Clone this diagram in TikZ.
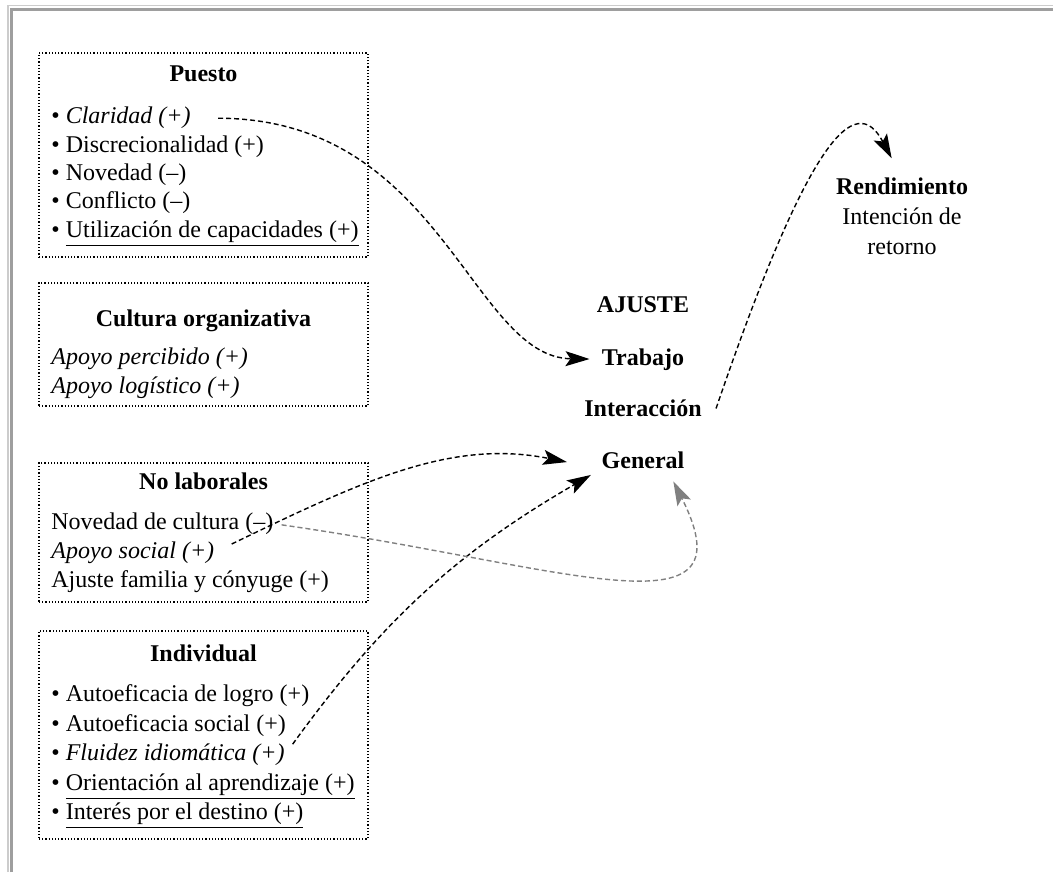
\documentclass[tikz,border=0pt]{standalone}
\usepackage{fontspec}
\setmainfont{Liberation Serif}
\usetikzlibrary{arrows.meta,positioning}

\begin{document}
\begin{tikzpicture}[
  x=0.5pt, y=-0.5pt,
  font=\fontsize{12}{14}\selectfont,
  caja/.style={draw, densely dotted, line width=0.6pt, minimum width=164.5pt,
    minimum height=#1, inner sep=0pt},
  titulo/.style={font=\fontsize{12}{14}\selectfont\bfseries, anchor=base, inner sep=0pt},
  elem/.style={anchor=base west, inner sep=0pt},
  flecha/.style={-{Stealth[length=12pt, width=7.5pt, inset=2.5pt]}, line width=0.7pt,
    dash pattern=on 2.5pt off 1.5pt}
]
  \useasboundingbox (0,0) rectangle (1053,872);

  % Frame
  \draw[black!20, line width=0.75pt] (8,872) -- (8,5.5) -- (1053,5.5);
  \draw[black!38, line width=1.5pt] (11.5,872) -- (11.5,9.5) -- (1053,9.5);

  % Puesto
  \node[caja=102pt] (B1) at (203.5,155) {};
  \node[titulo] (T1) at (203.5,82) {Puesto};
  \node[elem] (P1) at (51,124)   {\textbullet\ \textit{Claridad (+)}};
  \node[elem] (P2) at (51,152.3) {\textbullet\ Discrecionalidad (+)};
  \node[elem] (P3) at (51,180.6) {\textbullet\ Novedad (–)};
  \node[elem] (P4) at (51,208.9) {\textbullet\ Conflicto (–)};
  \node[elem] (P5) at (51,237.2) {\textbullet\ \underline{Utilización de capacidades (+)}};

  % Cultura organizativa
  \node[caja=61.5pt] (B2) at (203.5,344.5) {};
  \node[titulo] (T2) at (203.5,326) {Cultura organizativa};
  \node[elem] (C1) at (51,364) {\textit{Apoyo percibido (+)}};
  \node[elem] (C2) at (51,393) {\textit{Apoyo logístico (+)}};

  % No laborales
  \node[caja=69.5pt] (B3) at (203.5,532.5) {};
  \node[titulo] (T3) at (203.5,489.3) {No laborales};
  \node[elem] (N1) at (51,529.5) {Novedad de cultura (–)};
  \node[elem] (N2) at (51,558)   {\textit{Apoyo social (+)}};
  \node[elem] (N3) at (51,587)   {Ajuste familia y cónyuge (+)};

  % Individual
  \node[caja=104pt] (B4) at (203.5,735) {};
  \node[titulo] (T4) at (203.5,661.7) {Individual};
  \node[elem] (I1) at (51,701.7) {\textbullet\ Autoeficacia de logro (+)};
  \node[elem] (I2) at (51,731)   {\textbullet\ Autoeficacia social (+)};
  \node[elem] (I3) at (51,760.5) {\textbullet\ \textit{Fluidez idiomática (+)}};
  \node[elem] (I4) at (51,790)   {\textbullet\ \underline{Orientación al aprendizaje (+)}};
  \node[elem] (I5) at (51,819)   {\textbullet\ \underline{Interés por el destino (+)}};

  % Ajuste
  \node[titulo] (A0) at (643,312.7) {AJUSTE};
  \node[titulo] (A1) at (643,365)   {Trabajo};
  \node[titulo] (A2) at (643,416.7) {Interacción};
  \node[titulo] (A3) at (643,468.3) {General};

  \node[align=center, inner sep=0pt, anchor=north,
    font=\fontsize{12}{14.85}\selectfont] (R) at (902,177.6)
    {\textbf{Rendimiento}\\Intención de\\retorno};

  % Arrows
  \draw[flecha, shorten <=13.5pt, shorten >=6pt]
    (P1.east) .. controls +(250,0) and +(-130,-2) .. (A1.west);
  \draw[flecha, shorten <=9.5pt, shorten >=17.5pt]
    (N2.east) .. controls +(149,-72) and +(-150,-30) .. (A3.south west);
  \draw[flecha, shorten <=6.5pt, shorten >=6pt]
    (I3.east) to[bend left=12] (A3.south west);
  \draw[flecha, black!50, shorten <=4pt, shorten >=7pt]
    (N1.east) .. controls +(288,41) and +(87,172) .. ([xshift=12pt]A3.south);
  \draw[flecha, shorten >=11pt]
    ([xshift=7pt]A2.east) .. controls +(92,-269) and +(-47,-88) .. (R.north);
\end{tikzpicture}
\end{document}
